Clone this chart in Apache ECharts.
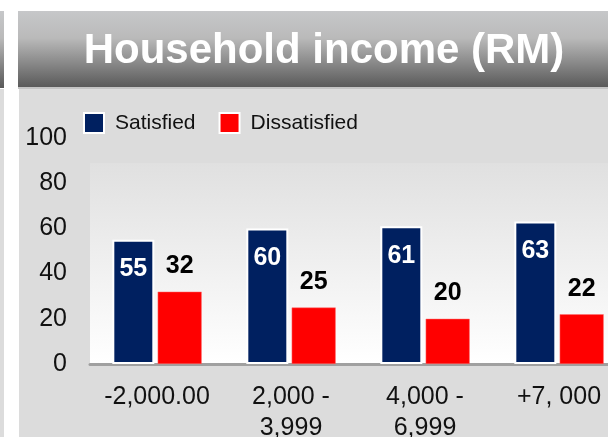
<!DOCTYPE html>
<html>
<head>
<meta charset="utf-8">
<style>html,body{margin:0;padding:0;background:#fff;}#c{width:608px;height:437px;}</style>
<script src="https://cdn.jsdelivr.net/npm/echarts@6/dist/echarts.min.js"></script>
</head>
<body>
<div id="c"></div>
<script>
var categories = ['-2,000.00', '2,000 -\n3,999', '4,000 -\n6,999', '+7, 000'];
var satisfied = [55, 60, 61, 63];
var dissatisfied = [32, 25, 20, 22];
var yTicks = [0, 20, 40, 60, 80, 100];
var titleText = 'Household income (RM)';

var chart = echarts.init(document.getElementById('c'), null, {renderer: 'canvas'});
var FONT = '"Liberation Sans", Arial, sans-serif';
function headerGrad() {
  return new echarts.graphic.LinearGradient(0, 0, 0, 1, [
    {offset: 0, color: '#c6c7c9'},
    {offset: 0.35, color: '#bababa'},
    {offset: 1, color: '#585858'}
  ]);
}
chart.setOption({
  animation: false,
  backgroundColor: '#ffffff',
  textStyle: {fontFamily: FONT},
  graphic: [
    {type: 'rect', z: -10, shape: {x: 0, y: 11, width: 4, height: 77}, style: {fill: headerGrad()}},
    {type: 'rect', z: -10, shape: {x: 0, y: 89, width: 4, height: 348}, style: {fill: '#dcdcdc'}},
    {type: 'rect', z: -10, shape: {x: 18, y: 11, width: 590, height: 77}, style: {fill: headerGrad()}},
    {type: 'rect', z: -10, shape: {x: 18, y: 87, width: 590, height: 2}, style: {fill: '#c4c4c4'}},
    {type: 'rect', z: -10, shape: {x: 19, y: 89, width: 589, height: 348}, style: {fill: '#dcdcdc'}},
    {type: 'rect', z: -9, shape: {x: 90, y: 163, width: 518, height: 200}, style: {fill: new echarts.graphic.LinearGradient(0, 0, 0, 1, [
      {offset: 0, color: '#e0e0e0'},
      {offset: 1, color: '#ffffff'}
    ])}},
    {type: 'text', z: 5, x: 324, y: 51, style: {text: titleText, fill: '#ffffff', font: 'bold 42px ' + FONT, textAlign: 'center', textVerticalAlign: 'middle'}}
  ],
  legend: {
    left: 83, top: 112, padding: 0,
    itemWidth: 20, itemHeight: 20, itemGap: 23,
    icon: 'rect',
    itemStyle: {borderColor: '#ffffff', borderWidth: 2},
    textStyle: {fontSize: 21, color: '#111', fontFamily: FONT, padding: [0, 0, 0, 6]},
    data: ['Satisfied', 'Dissatisfied']
  },
  grid: {left: 90, top: 138, width: 536, bottom: 73, containLabel: false, outerBoundsMode: 'none'},
  xAxis: {
    type: 'category',
    data: categories,
    axisLine: {lineStyle: {color: '#a0a0a0', width: 3}},
    axisTick: {show: false},
    axisLabel: {fontSize: 25, lineHeight: 31, color: '#111', margin: 18, interval: 0, fontFamily: FONT}
  },
  yAxis: {
    type: 'value', min: 0, max: 100, interval: 20,
    axisLine: {show: false}, axisTick: {show: false}, splitLine: {show: false},
    axisLabel: {fontSize: 25, color: '#111', margin: 23, fontFamily: FONT,
      formatter: function (v) { return yTicks.indexOf(v) >= 0 ? String(v) : ''; }}
  },
  series: [
    {
      name: 'Satisfied', type: 'bar', data: satisfied,
      barWidth: 42, barGap: '8%',
      itemStyle: {color: '#002060', borderColor: '#ffffff', borderWidth: 2},
      label: {show: true, position: 'insideTop', distance: 17, color: '#ffffff', fontSize: 25, fontWeight: 'bold', fontFamily: FONT}
    },
    {
      name: 'Dissatisfied', type: 'bar', data: dissatisfied,
      barWidth: 44,
      itemStyle: {color: '#ff0000', borderColor: '#ff7070', borderWidth: 0.5},
      label: {show: true, position: 'top', distance: 13, color: '#000000', fontSize: 25, fontWeight: 'bold', fontFamily: FONT}
    }
  ]
});
</script>
</body>
</html>
